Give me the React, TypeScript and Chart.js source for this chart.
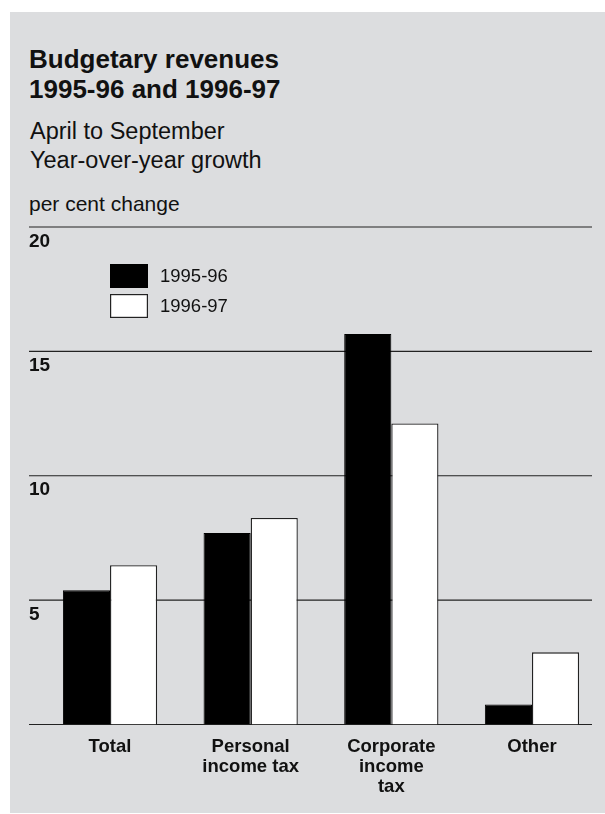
import React, { useEffect, useRef } from 'react';
import { Chart, registerables } from 'chart.js';

Chart.register(...registerables);

// ---- data ----
const categories: (string | string[])[] = [
  'Total',
  ['Personal', 'income tax'],
  ['Corporate', 'income', 'tax'],
  'Other',
];
const seriesLabels = ['1995-96', '1996-97'];
const values9596 = [5.4, 7.7, 15.7, 0.8];
const values9697 = [6.4, 8.3, 12.1, 2.9];
const yTickValues = [0, 5, 10, 15, 20];
const yTickLabels = ['', '5', '10', '15', '20'];

// ---- layout / style ----
const W = 605;
const H = 814;
const FONT = "'Liberation Sans', Arial, Helvetica, sans-serif";
const INK = '#111';
const PANEL = '#dcdddf';
const GRID_LEFT = 29;
const GRID_RIGHT = 592;

const gridPlugin = {
  id: 'customGrid',
  beforeDatasetsDraw(chart: any) {
    const { ctx } = chart;
    const y = chart.scales.y;
    ctx.save();
    ctx.strokeStyle = '#222';
    ctx.lineWidth = 1.2;
    yTickValues.forEach((v) => {
      const py = y.getPixelForValue(v);
      ctx.beginPath();
      ctx.moveTo(GRID_LEFT, py);
      ctx.lineTo(GRID_RIGHT, py);
      ctx.stroke();
    });
    ctx.fillStyle = INK;
    ctx.font = `bold 19px ${FONT}`;
    ctx.textAlign = 'left';
    ctx.textBaseline = 'alphabetic';
    yTickValues.forEach((v, i) => {
      const label = yTickLabels[i];
      if (!label) return;
      const py = y.getPixelForValue(v);
      ctx.fillText(label, 29, py + 19.5);
    });
    ctx.restore();
  },
};

const legendPlugin = {
  id: 'customLegend',
  afterDatasetsDraw(chart: any) {
    const { ctx } = chart;
    ctx.save();
    chart.data.datasets.forEach((ds: any, i: number) => {
      const bx = 110;
      const by = 264 + i * 30;
      ctx.fillStyle = ds.backgroundColor;
      ctx.fillRect(bx, by, 38, 24);
      ctx.strokeStyle = ds.borderColor;
      ctx.lineWidth = 1.2;
      ctx.strokeRect(bx + 0.6, by + 0.6, 36.8, 22.8);
      ctx.fillStyle = INK;
      ctx.font = `18.5px ${FONT}`;
      ctx.textAlign = 'left';
      ctx.textBaseline = 'middle';
      ctx.fillText(ds.label, 160, by + 13);
    });
    ctx.restore();
  },
};

function BarChart() {
  const ref = useRef<HTMLCanvasElement | null>(null);
  useEffect(() => {
    if (!ref.current) return;
    const chart = new Chart(ref.current, {
      type: 'bar',
      data: {
        labels: categories as any,
        datasets: [
          {
            label: seriesLabels[0],
            data: values9596,
            backgroundColor: '#000',
            borderColor: '#000',
            borderWidth: 1,
            barPercentage: 1,
            categoryPercentage: 0.67,
          },
          {
            label: seriesLabels[1],
            data: values9697,
            backgroundColor: '#fff',
            borderColor: '#222',
            borderWidth: 1.3,
            barPercentage: 1,
            categoryPercentage: 0.67,
          },
        ],
      },
      options: {
        animation: false,
        responsive: false,
        layout: { padding: { left: 39.7, right: 2.7, top: 227, bottom: 9.5 } },
        plugins: {
          legend: { display: false },
          tooltip: { enabled: false },
          title: { display: false },
        },
        scales: {
          x: {
            grid: { display: false, drawTicks: false },
            border: { display: false },
            ticks: {
              color: INK,
              padding: 12.4,
              maxRotation: 0,
              autoSkip: false,
              font: { family: FONT, size: 18.5, weight: 'bold', lineHeight: 20 / 18.5 },
            },
            afterFit: (scale: any) => {
              scale.height = 80;
            },
          },
          y: {
            display: false,
            min: 0,
            max: 20,
            ticks: { stepSize: 5 },
          },
        },
      },
      plugins: [gridPlugin, legendPlugin],
    });
    return () => chart.destroy();
  }, []);
  return (
    <canvas
      ref={ref}
      width={W}
      height={H}
      style={{ position: 'absolute', left: 0, top: 0, width: W, height: H }}
    />
  );
}

export default function App() {
  return (
    <div
      style={{
        position: 'fixed',
        left: 0,
        top: 0,
        width: W,
        height: H,
        background: '#fff',
        overflow: 'hidden',
        fontFamily: FONT,
        color: INK,
      }}
    >
      <div
        style={{ position: 'absolute', left: 10, top: 12, width: 595, height: 801, background: PANEL }}
      />
      <div
        style={{
          position: 'absolute',
          left: 29,
          top: 45.2,
          fontSize: 26,
          lineHeight: '29.5px',
          fontWeight: 'bold',
          whiteSpace: 'nowrap',
        }}
      >
        <div>Budgetary revenues</div>
        <div>1995-96 and 1996-97</div>
      </div>
      <div
        style={{
          position: 'absolute',
          left: 30,
          top: 117.2,
          fontSize: 23.5,
          lineHeight: '29.3px',
          whiteSpace: 'nowrap',
        }}
      >
        <div>April to September</div>
        <div>Year-over-year growth</div>
      </div>
      <div
        style={{
          position: 'absolute',
          left: 29,
          top: 192.4,
          fontSize: 21,
          lineHeight: '24px',
          whiteSpace: 'nowrap',
        }}
      >
        per cent change
      </div>
      <BarChart />
    </div>
  );
}
